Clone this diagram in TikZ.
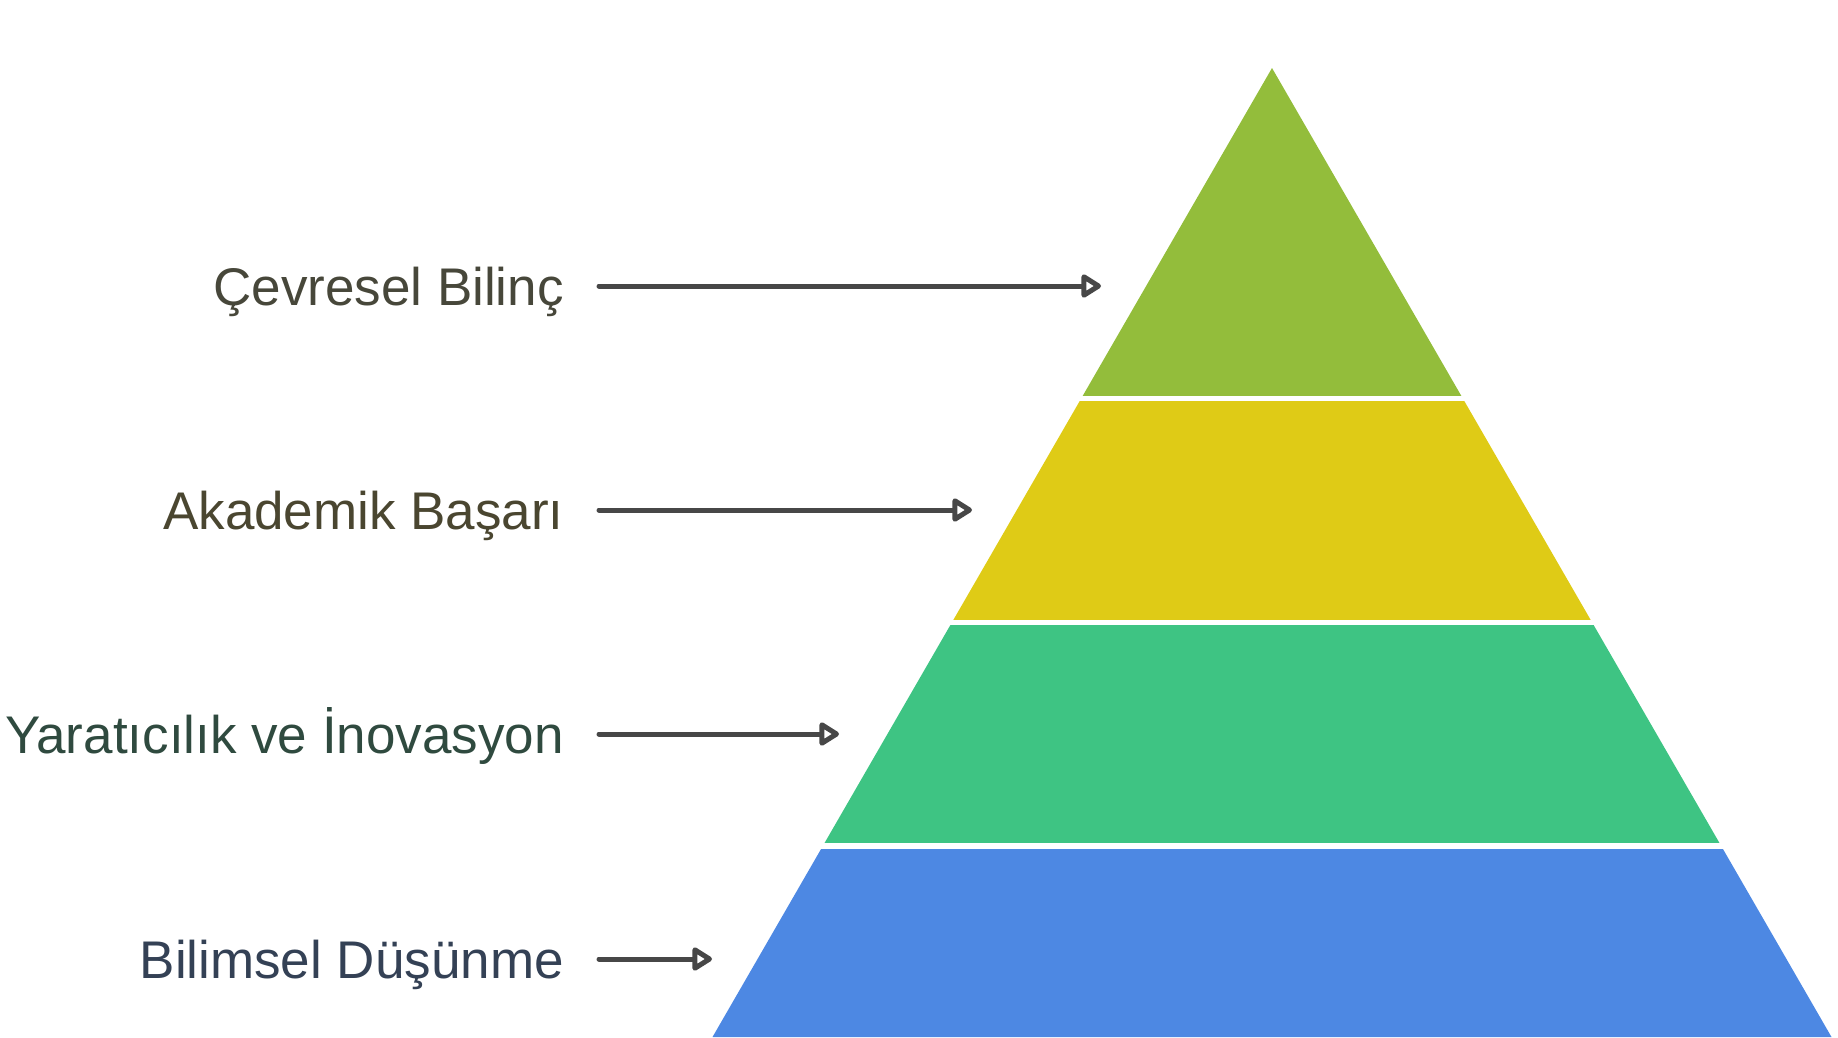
\documentclass[tikz,border=0pt]{standalone}
\usepackage{fontspec}
\setmainfont{Liberation Sans}
\usetikzlibrary{arrows.meta}
\definecolor{lvlgreen}{HTML}{93BD3B}
\definecolor{lvlyellow}{HTML}{DFCB16}
\definecolor{lvlteal}{HTML}{3EC483}
\definecolor{lvlblue}{HTML}{4D88E3}
\definecolor{arrgray}{HTML}{474747}
\definecolor{txtolive}{HTML}{47473A}
\definecolor{txtbrown}{HTML}{4A4630}
\definecolor{txtgreen}{HTML}{2F4A3F}
\definecolor{txtblue}{HTML}{344155}
\tikzset{lbl/.style={inner sep=0pt, anchor=base east, font=\fontsize{53}{61}\selectfont},
         arr/.style={draw=arrgray, line width=5pt, line cap=round,
                     -{Triangle[open, round, length=22pt, width=26pt]}}}

\begin{document}
\begin{tikzpicture}[x=1pt, y=-1pt]
    \useasboundingbox (0,0) rectangle (1838,1037);

    \coordinate (apex) at (1272,68);
    \begin{scope}
        \clip (apex) -- (1272-0.5774*969, 1037) -- (1272+0.5774*969, 1037) -- cycle;
        \foreach \top/\bot/\col in {60/396/lvlgreen, 401/620/lvlyellow, 625/843/lvlteal, 849/1040/lvlblue}
            \fill[\col] (600,\top) rectangle (1900,\bot);
    \end{scope}

    \node (l1) [lbl, text=txtolive] at (564,305) {Çevresel Bilinç};
    \node (l2) [lbl, text=txtbrown] at (564,529) {Akademik Başarı};
    \node (l3) [lbl, text=txtgreen] at (564,753) {Yaratıcılık ve İnovasyon};
    \node (l4) [lbl, text=txtblue] at (564,978) {Bilimsel Düşünme};

    \coordinate (t1) at (1101,286);
    \coordinate (t2) at (972,510);
    \coordinate (t3) at (839,734);
    \coordinate (t4) at (712,959);

    \draw[arr, shorten <=35pt] (l1.east |- t1) -- (t1);
    \draw[arr, shorten <=35pt] (l2.east |- t2) -- (t2);
    \draw[arr, shorten <=35pt] (l3.east |- t3) -- (t3);
    \draw[arr, shorten <=35pt] (l4.east |- t4) -- (t4);
\end{tikzpicture}
\end{document}
